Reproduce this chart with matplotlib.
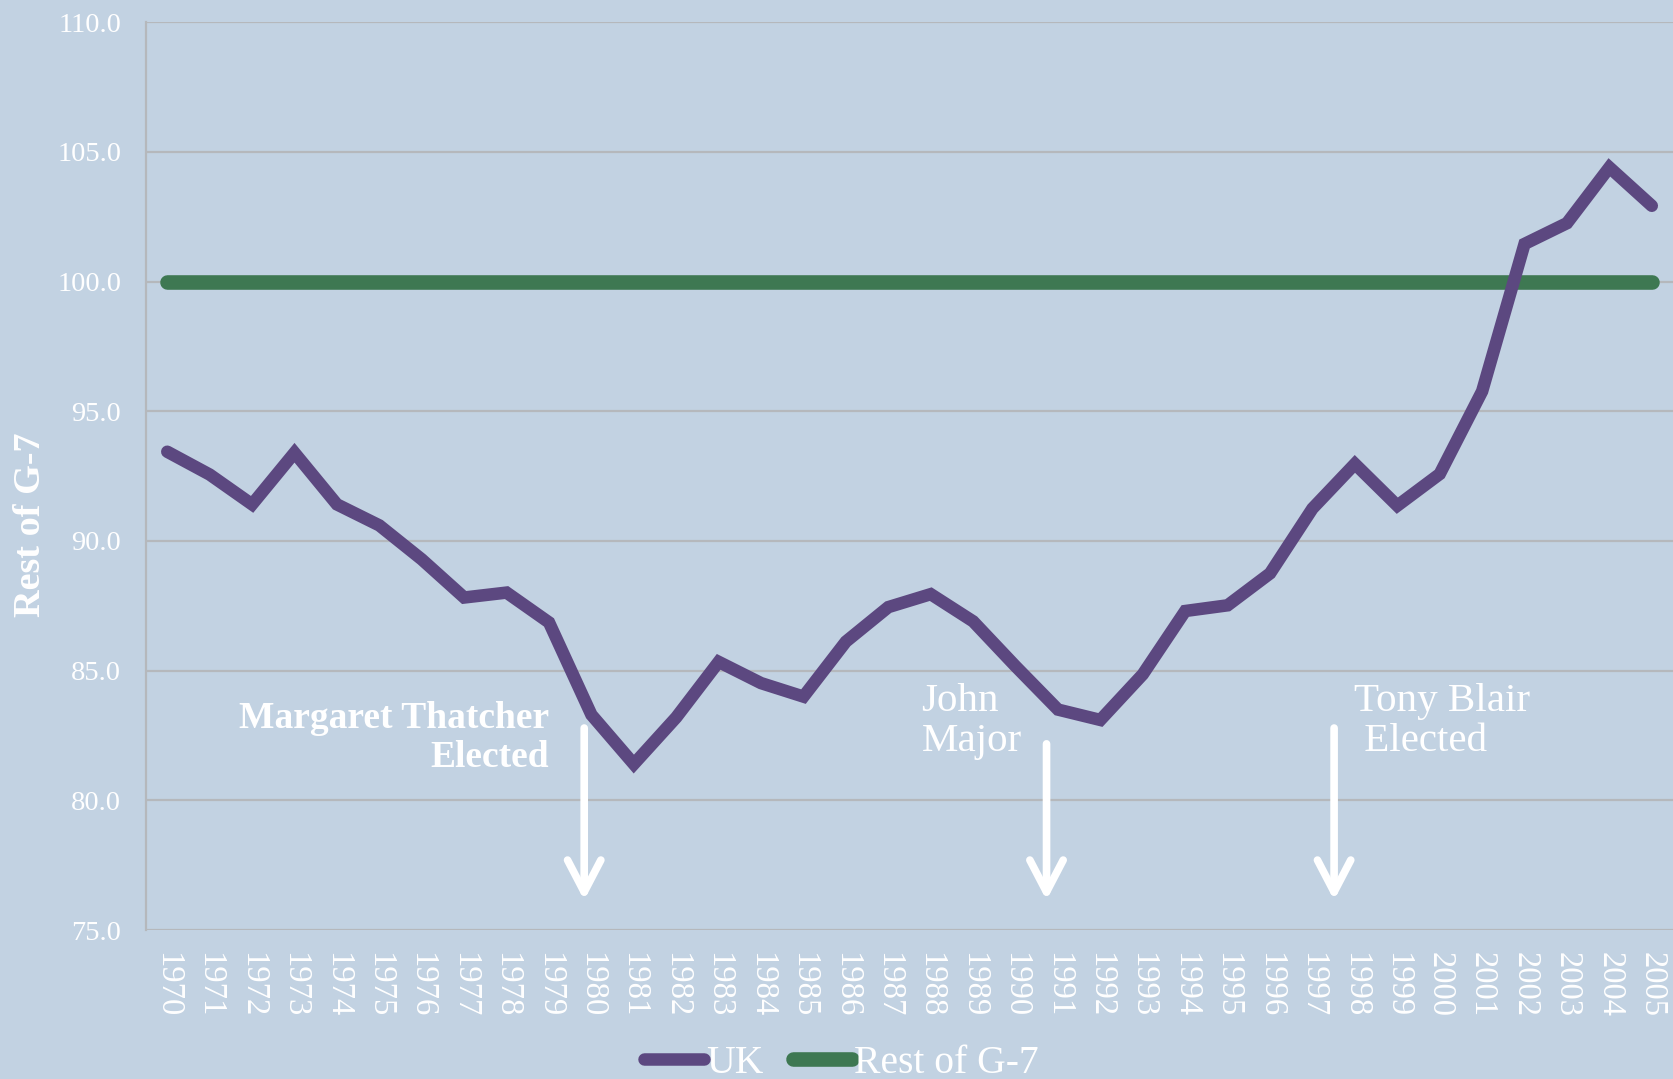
import matplotlib
matplotlib.use("Agg")
import matplotlib.pyplot as plt

years = [str(y) for y in range(1970, 2006)]
uk = [93.44, 92.56, 91.41, 93.40, 91.41, 90.6, 89.29, 87.82, 88.01, 86.86,
      83.3, 81.4, 83.2, 85.34, 84.52, 84.0, 86.12, 87.45, 87.95, 86.9,
      85.17, 83.5, 83.1, 84.86, 87.3, 87.52, 88.75, 91.25, 92.97, 91.36,
      92.58, 95.77, 101.45, 102.25, 104.4, 102.92]
rest_g7 = [100.0] * 36
yticks = [75, 80, 85, 90, 95, 100, 105, 110]

# annotations: (text, text x, text baseline y, ha, weight, size, arrow x, arrow top, arrow bottom)
notes = [
    ("Margaret Thatcher\nElected", 9.0, 81.3, "right", "bold", 27, 9.83, 82.79, 76.15),
    ("John\nMajor", 17.78, 81.9, "left", "normal", 29.5, 20.73, 82.18, 76.15),
    ("Tony Blair\n Elected", 27.98, 81.9, "left", "normal", 29.5, 27.51, 82.79, 76.15),
]

bg = "#C2D2E2"
purple = "#5C4880"
green = "#3E7852"
grid = "#B5B8BC"
serif = ["Liberation Serif", "DejaVu Serif"]

fig = plt.figure(figsize=(16.73, 10.79), dpi=100, facecolor=bg)
ax = fig.add_axes([0.0873, 0.138, 0.9127, 0.8415])
ax.set_facecolor(bg)

x = list(range(len(years)))
ax.plot(x, uk, color=purple, lw=9, solid_capstyle="round", solid_joinstyle="miter", label="UK", zorder=3)
ax.plot(x, rest_g7, color=green, lw=10.5, solid_capstyle="round", label="Rest of G-7", zorder=2)

ax.set_xlim(-0.5, len(years) - 0.5)
ax.set_ylim(75, 110)
ax.set_yticks(yticks)
ax.set_yticklabels([f"{v:.1f}" for v in yticks], fontfamily=serif, fontsize=20.5, color="white")
ax.set_xticks(x)
ax.set_xticklabels(years, rotation=-90, fontfamily=serif, fontsize=23.5, color="white", va="top", ha="center")
ax.tick_params(axis="both", length=0)
ax.tick_params(axis="y", pad=18)
ax.tick_params(axis="x", pad=16)
ax.grid(axis="y", color=grid, lw=1.6)
ax.set_axisbelow(True)
for s in ["top", "right", "bottom"]:
    ax.spines[s].set_visible(False)
ax.spines["left"].set_color(grid)
ax.spines["left"].set_linewidth(1.6)

fig.text(0.0185, 0.514, "Rest of G-7", rotation=90, ha="center", va="center", fontfamily=serif,
         fontsize=27.5, fontweight="bold", color="white")

for txt, tx, ty, ha, wt, sz, axp, atop, abot in notes:
    ax.text(tx, ty, txt, ha=ha, va="baseline", fontfamily=serif, fontsize=sz, fontweight=wt,
            color="white", linespacing=1.12, multialignment=ha)
    ax.annotate("", xy=(axp, abot), xytext=(axp, atop),
                arrowprops=dict(arrowstyle="->,head_length=2.3,head_width=1.2", color="white", lw=5.5,
                                shrinkA=0, shrinkB=0, capstyle="round", joinstyle="round"))

leg = fig.legend(loc="lower center", bbox_to_anchor=(0.503, -0.036), ncol=2, frameon=False,
                 prop={"family": serif, "size": 28.5}, handlelength=1.5, handletextpad=0.05,
                 columnspacing=0.75, labelcolor="white")

fig.savefig("out.png", dpi=100, facecolor=bg)
